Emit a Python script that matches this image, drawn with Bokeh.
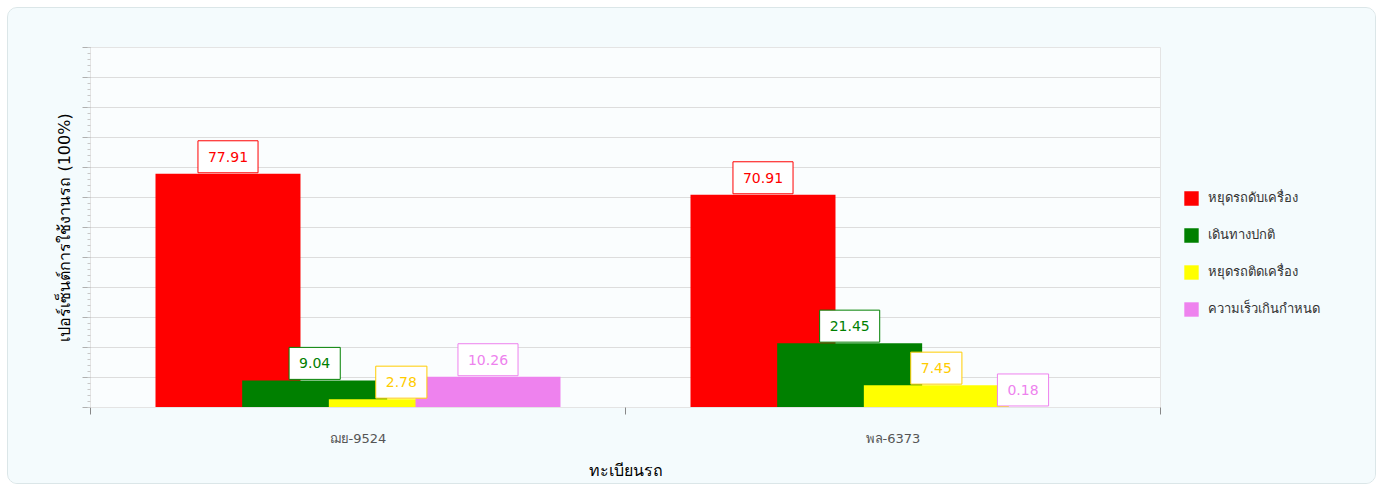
from bokeh.plotting import figure
from bokeh.models import (ColumnDataSource, Range1d, FixedTicker, Legend, LegendItem)
from bokeh.core.properties import value
from bokeh.transform import dodge
from bokeh.embed import file_html
from bokeh.resources import INLINE

# ---- data ----
categories = ["ฌย-9524", "พล-6373"]
series_names = ["หยุดรถดับเครื่อง", "เดินทางปกติ", "หยุดรถติดเครื่อง", "ความเร็วเกินกำหนด"]
engine_off = [77.91, 70.91]
normal_drive = [9.04, 21.45]
idle_on = [2.78, 7.45]
overspeed = [10.26, 0.18]
y_title = "เปอร์เซ็นต์การใช้งานรถ (100%)"
x_title = "ทะเบียนรถ"

series_values = [engine_off, normal_drive, idle_on, overspeed]
bar_colors = ["#ff0000", "#008000", "#ffff00", "#ee82ee"]
label_colors = ["#ff0000", "#008000", "#ffcc00", "#ee82ee"]
offsets = [-0.243, -0.081, 0.081, 0.243]
bar_w = 0.271

centers = [i + 0.5 for i in range(len(categories))]
y_ticks = list(range(0, 121, 10))

FONT = "DejaVu Sans"
PANEL = "#f4fbfd"

p = figure(frame_width=1070, frame_height=360, output_backend="svg", toolbar_location=None,
           x_range=Range1d(0, len(categories)), y_range=Range1d(0, 120))
p.min_border_left = 82
p.min_border_right = 217
p.min_border_top = 39
p.min_border_bottom = 78
p.border_fill_color = PANEL
p.background_fill_color = "#fafdfe"
p.outline_line_color = "#e4e4e4"
p.styles = {"border": "1px solid #dbe6e8", "border-radius": "10px",
            "overflow": "hidden", "margin": "7px 0 0 7px",
            "width": "1369px", "max-width": "1369px",
            "height": "477px", "max-height": "477px",
            "background-color": PANEL}

items = []
sources = []
for name, vals, bc, off in zip(series_names, series_values, bar_colors, offsets):
    src = ColumnDataSource(dict(x=centers, y=vals, txt=["%.2f" % v for v in vals]))
    sources.append(src)
    r = p.vbar(x=dodge("x", off), top="y", bottom=0, width=bar_w, source=src,
               fill_color=bc, line_color=None)
    items.append(LegendItem(label=name, renderers=[r]))

for src, lc, off in zip(sources, label_colors, offsets):
    p.text(x=dodge("x", off), y="y", text="txt", source=src,
           text_align="center", text_baseline="bottom", y_offset=-1,
           text_font=value(FONT), text_font_size="14px", text_color=lc,
           background_fill_color="white", border_line_color=lc,
           border_line_width=1, padding=dict(left=10, right=10, top=11, bottom=11))

# y axis
yax = p.yaxis[0]
yax.ticker = FixedTicker(ticks=y_ticks, minor_ticks=list(range(0, 121, 2)))
yax.major_label_overrides = {t: "" for t in y_ticks}
yax.major_label_standoff = 0
yax.axis_line_color = "#e4e4e4"
yax.major_tick_line_color = "#b0b0b0"
yax.major_tick_out = 8
yax.major_tick_in = 0
yax.minor_tick_line_color = "#c8c8c8"
yax.minor_tick_out = 3
yax.minor_tick_in = 0
yax.axis_label = y_title
yax.axis_label_text_font = FONT
yax.axis_label_text_font_size = "16px"
yax.axis_label_text_font_style = "normal"
yax.axis_label_text_color = "#000000"
yax.axis_label_standoff = 9

# x axis
xax = p.xaxis[0]
xax.ticker = FixedTicker(ticks=centers, minor_ticks=list(range(0, len(categories) + 1)))
xax.major_label_overrides = {c: cat for c, cat in zip(centers, categories)}
xax.major_tick_out = 0
xax.major_tick_in = 0
xax.minor_tick_out = 7
xax.minor_tick_in = 0
xax.minor_tick_line_color = "#888888"
xax.axis_line_color = "#e4e4e4"
xax.major_label_text_font = FONT
xax.major_label_text_font_size = "13px"
xax.major_label_text_color = "#555555"
xax.major_label_standoff = 16
xax.axis_label = x_title
xax.axis_label_text_font = FONT
xax.axis_label_text_font_size = "16px"
xax.axis_label_text_font_style = "normal"
xax.axis_label_text_color = "#000000"
xax.axis_label_standoff = 12

p.xgrid.grid_line_color = None
p.ygrid.ticker = FixedTicker(ticks=y_ticks)
p.ygrid.grid_line_color = "#dddddd"

legend = Legend(items=items, location="top_left", orientation="vertical", ncols=1,
                glyph_width=18, glyph_height=18, label_height=18, spacing=16,
                padding=0, margin=22, label_standoff=8,
                title=" ", title_text_font_size="10px", title_standoff=107,
                label_text_font=FONT, label_text_font_size="13px",
                label_text_color="#333333",
                background_fill_alpha=0, border_line_color=None)
p.add_layout(legend, "right")

open("out.html", "w").write(file_html(p, INLINE))
